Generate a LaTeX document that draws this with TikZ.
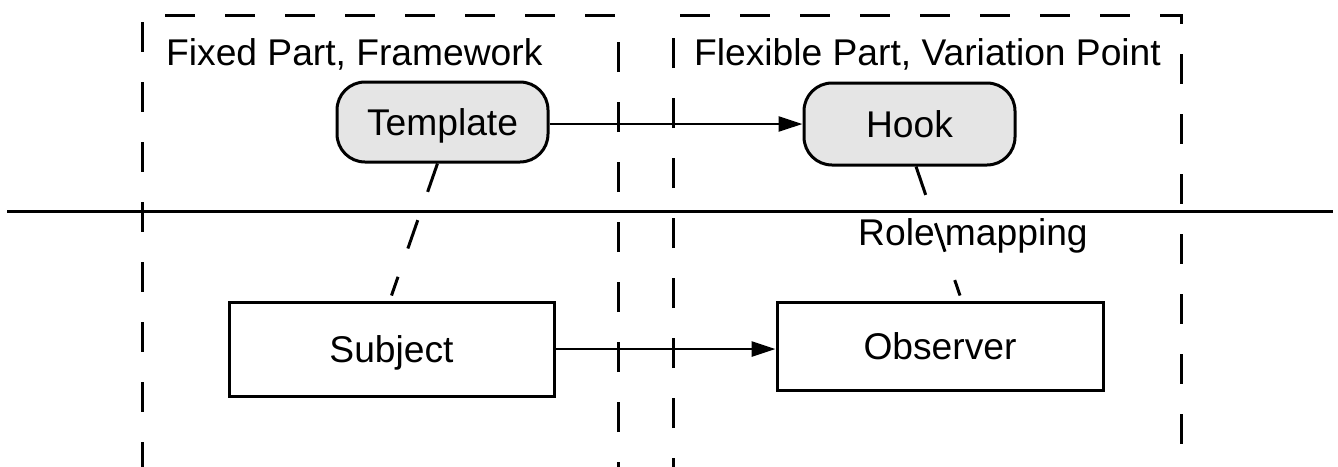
\documentclass[tikz,border=0pt]{standalone}
\usepackage{fontspec}
\setmainfont{Liberation Sans}
\usetikzlibrary{arrows.meta}
\begin{document}
\begin{tikzpicture}[x=1pt,y=-1pt,
  every node/.style={font=\fontsize{37.2}{44}\selectfont},
  lw/.style={line width=3pt},
  frame/.style={lw, dash pattern=on 30pt off 30pt, dash phase=1pt},
  roundbox/.style={draw, lw, fill=gray!20, rounded corners=28pt, inner sep=0pt,
                   text height=26.6pt, text depth=0pt},
  plainbox/.style={draw, lw, fill=white, inner sep=0pt,
                   text height=26.6pt, text depth=0pt},
  arr/.style={line width=2.8pt, -{Triangle[length=24pt,width=15pt]}},
  conn/.style={lw, dash pattern=on 30pt off 30pt},
  caption/.style={anchor=base west, inner sep=0pt},
]
\useasboundingbox (0,0) rectangle (1338,466);
\fill[white] (0,0) rectangle (1338,466);

% the two dashed regions
\draw[frame] (618,491) -- (618,15) -- (142,15) -- (142,491);
\draw[frame] (673,487) -- (673,15) -- (1181,15) -- (1181,487);

% level separator
\draw[lw] (7,211) -- (1333,211);

% region captions
\node[caption] (fixedlbl) at (166,65) {Fixed Part, Framework};
\node[caption] (flexlbl) at (694,65) {Flexible Part, Variation Point};

% upper level
\node[roundbox, minimum width=211pt, minimum height=80pt] (tmpl) at (442.5,122) {Template};
\node[roundbox, minimum width=211pt, minimum height=82pt] (hook) at (909.5,124) {Hook};

% lower level
\node[plainbox, minimum width=325pt, minimum height=94pt] (subj) at (391.5,349) {Subject};
\node[plainbox, minimum width=326pt, minimum height=88pt] (obs) at (940,346) {Observer};

\node[caption] (rolelbl) at (858,245) {Role mapping};

% calls
\draw[arr] (tmpl.east |- hook.west) -- (hook.west);
\draw[arr] (subj.east) -- (obs.west |- subj.east);

% role bindings
\draw[conn] ([xshift=-5pt]tmpl.south) -- ([yshift=5pt]subj.north);
\draw[conn] ([xshift=6.5pt]hook.south) -- ([xshift=20pt,yshift=5pt]obs.north);
\end{tikzpicture}
\end{document}
